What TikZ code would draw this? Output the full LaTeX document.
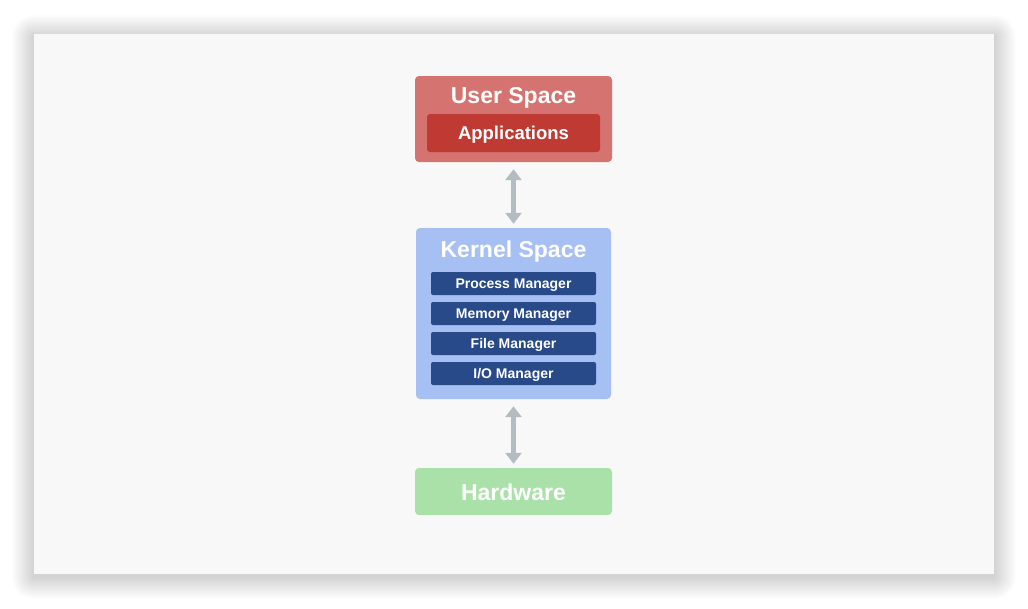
\documentclass[tikz,border=0pt]{standalone}
\usepackage{fontspec}
\setmainfont{Liberation Sans}
\usetikzlibrary{arrows.meta}

\definecolor{slidebg}{HTML}{F8F8F8}
\definecolor{userout}{HTML}{D4736F}
\definecolor{userin}{HTML}{BF3A33}
\definecolor{kernout}{HTML}{A6C0F3}
\definecolor{kernin}{HTML}{294A89}
\definecolor{hwfill}{HTML}{A9E1A9}
\definecolor{linkgray}{HTML}{B3BCC1}

\tikzset{
  layer/.style={rectangle,rounded corners=4pt,inner sep=0pt},
  title/.style={text=white,font=\bfseries\fontsize{23}{28}\selectfont,anchor=base},
  part/.style={layer,rounded corners=2pt,fill=kernin,text=white,text height=10pt,text depth=0pt,
    minimum width=165pt,minimum height=23pt,font=\bfseries\fontsize{14}{16}\selectfont},
  link/.style={linkgray,line width=4.5pt,
    {Triangle[width=16pt,length=11pt]}-{Triangle[width=16pt,length=11pt]},shorten <=7pt,shorten >=4pt}
}

\begin{document}
\begin{tikzpicture}[x=1pt,y=-1pt]
  \useasboundingbox (0,0) rectangle (1028,608);
  \fill[white] (0,0) rectangle (1028,608);
  \foreach \k in {1,...,22}
    \fill[black,opacity=0.008,rounded corners=\k pt] (34-\k,34-\k+3) rectangle (994+\k,574+\k+3);
  \fill[slidebg] (34,34) rectangle (994,574);

  % user space
  \node[layer,fill=userout,minimum width=197pt,minimum height=86pt] (user) at (513.5,119) {};
  \node[title] (usertitle) at (513.5,103) {User Space};
  \node[layer,rounded corners=3pt,fill=userin,text=white,minimum width=173pt,minimum height=38pt,
    text height=13.3pt,text depth=0pt,font=\bfseries\fontsize{18.5}{22}\selectfont] (apps) at (513.5,133) {Applications};

  % kernel space
  \node[layer,fill=kernout,minimum width=195pt,minimum height=171pt] (kernel) at (513.5,313.5) {};
  \node[title] (kerneltitle) at (513.5,257) {Kernel Space};
  \foreach \name/\txt [count=\i] in {proc/Process Manager,mem/Memory Manager,file/File Manager,io/{I/O Manager}}
    \node[part] (\name) at (513.5,253.5+30*\i) {\txt};

  % hardware
  \node[layer,fill=hwfill,minimum width=197pt,minimum height=47pt] (hw) at (513.5,491.5) {};
  \node[title] (hwtitle) at (513.5,500) {Hardware};

  \draw[link] (user) -- (kernel);
  \draw[link] (kernel) -- (hw);
\end{tikzpicture}
\end{document}
